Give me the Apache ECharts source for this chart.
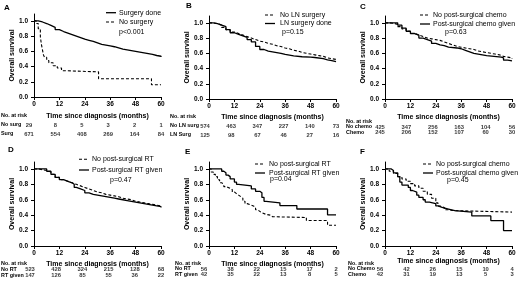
<!DOCTYPE html>
<html>
<head>
<meta charset="utf-8">
<script src="https://cdn.jsdelivr.net/npm/echarts@6/dist/echarts.min.js"></script>
<style>
html, body { margin: 0; padding: 0; background: #fff; }
#chart { width: 520px; height: 284px; }
</style>
</head>
<body>
<div id="chart"></div>
<script>
// axis ticks
var monthTicks = [0, 12, 24, 36, 48, 60];
var survivalTicks = [0, 0.2, 0.4, 0.6, 0.8, 1.0];

// A - surgery
var aSurgeryDone = [[0,1],[2,0.985],[4,0.965],[6,0.94],[8,0.915],[10,0.885],[12,0.86],[14,0.84],[16,0.82],[18,0.8],[20,0.78],[22,0.76],[24,0.745],[26,0.73],[28,0.71],[30,0.69],[32,0.68],[34,0.67],[36,0.66],[38,0.645],[40,0.63],[42,0.62],[44,0.61],[46,0.6],[48,0.59],[50,0.58],[52,0.57],[54,0.56],[56,0.545],[58,0.535],[60,0.525]];
var aNoSurgery = [[0,1],[1,0.966],[2,0.897],[3,0.793],[3.5,0.69],[4,0.62],[4.5,0.55],[5,0.52],[6,0.48],[7,0.45],[9,0.41],[11,0.38],[13,0.345],[15,0.33],[30.5,0.24],[55.5,0.16],[60,0.16]];
var aRiskNoSurg = [29, 8, 5, 3, 2, 1];
var aRiskSurg = [671, 554, 408, 269, 164, 84];

// B - LN surgery
var bNoLnSurgery = [[0,1],[2,0.99],[4,0.97],[6,0.94],[8,0.91],[10,0.88],[12,0.86],[14,0.84],[16,0.82],[18,0.8],[20,0.78],[22,0.76],[24,0.75],[26,0.73],[28,0.72],[30,0.7],[32,0.69],[34,0.67],[36,0.66],[38,0.64],[40,0.63],[42,0.61],[44,0.6],[46,0.59],[48,0.58],[50,0.57],[52,0.56],[54,0.54],[56,0.53],[58,0.52],[60,0.51]];
var bLnSurgeryDone = [[0,1],[2,0.99],[4,0.97],[6,0.95],[8,0.91],[10,0.87],[12,0.85],[14,0.83],[16,0.81],[18,0.78],[20,0.75],[22,0.69],[24,0.65],[26,0.63],[28,0.62],[30,0.61],[32,0.6],[34,0.585],[36,0.575],[38,0.565],[40,0.555],[44,0.55],[48,0.545],[50,0.53],[54,0.515],[56,0.505],[58,0.49],[60,0.49]];
var bRiskNoLn = [574, 463, 347, 227, 140, 73];
var bRiskLn = [125, 98, 67, 46, 27, 16];

// C - post-surgical chemo
var cNoChemo = [[0,1],[2,0.995],[4,0.98],[6,0.95],[8,0.92],[10,0.89],[12,0.86],[14,0.84],[16,0.82],[18,0.8],[20,0.79],[22,0.78],[24,0.77],[26,0.75],[28,0.73],[30,0.71],[32,0.69],[34,0.68],[36,0.67],[38,0.66],[40,0.65],[42,0.63],[44,0.62],[46,0.61],[48,0.6],[50,0.59],[52,0.58],[54,0.56],[56,0.55],[58,0.54],[60,0.53]];
var cChemoGiven = [[0,1],[5,1],[6,0.97],[8,0.93],[10,0.89],[12,0.86],[14,0.84],[16,0.8],[18,0.78],[20,0.76],[22,0.73],[24,0.71],[26,0.7],[28,0.68],[30,0.67],[34,0.66],[36,0.64],[38,0.62],[40,0.6],[42,0.59],[44,0.58],[46,0.57],[48,0.55],[55,0.54],[56,0.51],[58,0.5],[60,0.5]];
var cRiskNoChemo = [425, 347, 256, 163, 104, 56];
var cRiskChemo = [245, 206, 152, 107, 60, 30];

// D - post-surgical RT
var dNoRt = [[0,1],[2,0.99],[4,0.98],[6,0.96],[8,0.93],[10,0.89],[12,0.86],[14,0.84],[16,0.82],[18,0.8],[20,0.78],[22,0.76],[24,0.74],[26,0.72],[28,0.7],[30,0.69],[32,0.67],[34,0.66],[36,0.65],[38,0.64],[40,0.62],[42,0.61],[44,0.6],[46,0.58],[48,0.57],[50,0.56],[52,0.55],[54,0.54],[56,0.53],[58,0.52],[60,0.52]];
var dRtGiven = [[0,1],[5,1],[6,0.97],[8,0.93],[10,0.89],[12,0.86],[14,0.84],[16,0.82],[18,0.8],[19,0.76],[20,0.74],[22,0.72],[24,0.69],[26,0.67],[28,0.66],[30,0.65],[32,0.64],[34,0.63],[36,0.62],[38,0.61],[40,0.6],[42,0.59],[44,0.58],[46,0.57],[48,0.56],[50,0.55],[52,0.54],[54,0.53],[56,0.52],[58,0.51],[60,0.5]];
var dRiskNoRt = [523, 428, 324, 215, 128, 68];
var dRiskRt = [147, 126, 85, 55, 36, 22];

// E - post-surgical RT (subgroup)
var eNoRt = [[0,1],[1,0.96],[2,0.93],[3,0.9],[4,0.86],[5,0.82],[6,0.8],[7,0.77],[8,0.75],[10,0.73],[11,0.7],[12,0.68],[13,0.66],[14,0.64],[15,0.62],[16,0.58],[17,0.55],[18,0.53],[20,0.52],[21,0.5],[22,0.47],[23,0.45],[24,0.43],[25,0.41],[27,0.4],[29,0.38],[30,0.37],[46,0.33],[56,0.27],[60,0.27]];
var eRtGiven = [[0,1],[6,0.97],[7,0.95],[8,0.92],[9,0.9],[10,0.87],[12,0.83],[13,0.8],[14,0.78],[20,0.74],[22,0.71],[24,0.69],[25,0.63],[26,0.58],[27,0.56],[33.5,0.525],[41.5,0.48],[56,0.405],[60,0.405]];
var eRiskNoRt = [56, 38, 22, 15, 17, 2];
var eRiskRt = [42, 35, 22, 13, 8, 5];

// F - post-surgical chemo (subgroup)
var fNoChemo = [[0,1],[2,0.97],[4,0.94],[6,0.9],[8,0.87],[10,0.84],[12,0.81],[14,0.78],[16,0.75],[18,0.71],[20,0.67],[22,0.62],[24,0.56],[25,0.52],[26,0.5],[28,0.47],[30,0.46],[32,0.44],[60,0.44]];
var fChemoGiven = [[0,1],[3,0.98],[4,0.95],[6,0.9],[7,0.83],[8,0.79],[11,0.76],[12,0.72],[13,0.7],[15,0.66],[16,0.63],[18,0.6],[19,0.57],[21,0.55],[24,0.52],[25,0.5],[27,0.48],[30,0.46],[33,0.44],[41,0.39],[50,0.33],[56,0.2],[60,0.2]];
var fRiskNoChemo = [56, 42, 26, 15, 10, 4];
var fRiskChemo = [42, 31, 19, 13, 5, 3];

var FONT = '"Liberation Sans", Arial, Helvetica, sans-serif';
var INK = '#000';

var panels = [
    {
        letter: 'A', letterPos: [4, 4], p: 'p<0.001', pPos: [119, 28.5],
        grid: {left: 34, right: 359, top: 14, bottom: 187}, nameGap: 15.5,
        table: {left: 29, right: 359, top: 111.5, height: 27}, rowMargin: 28,
        legend: {x: 106, text: 119, rows: [12.7, 22]},
        lines: [{name: 'Surgery done', data: aSurgeryDone, dash: false}, {name: 'No surgery', data: aNoSurgery, dash: true}],
        rows: ['No surg', 'Surg'], risk: [aRiskNoSurg, aRiskSurg]
    },
    {
        letter: 'B', letterPos: [186, 2], p: 'p=0.15', pPos: [282, 28.5],
        grid: {left: 209, right: 184, top: 16, bottom: 185}, nameGap: 14.5,
        table: {left: 205, right: 184, top: 112.5, height: 27}, rowMargin: 35,
        legend: {x: 265, text: 280, rows: [15, 23.5]},
        lines: [{name: 'No LN surgery', data: bNoLnSurgery, dash: true}, {name: 'LN surgery done', data: bLnSurgeryDone, dash: false}],
        rows: ['No LN surg', 'LN Surg'], risk: [bRiskNoLn, bRiskLn]
    },
    {
        letter: 'C', letterPos: [360, 3], p: 'p=0.63', pPos: [445, 28.5],
        grid: {left: 385, right: 8, top: 16, bottom: 185}, nameGap: 14.5,
        table: {left: 380, right: 8, top: 119, height: 16}, rowMargin: 34,
        legend: {x: 420, text: 433, rows: [15, 24]},
        lines: [{name: 'No post-surgical chemo', data: cNoChemo, dash: true}, {name: 'Post-surgical chemo given', data: cChemoGiven, dash: false}],
        rows: ['No chemo', 'Chemo'], risk: [cRiskNoChemo, cRiskChemo]
    },
    {
        letter: 'D', letterPos: [8, 145.5], p: 'p=0.47', pPos: [110, 176.5],
        grid: {left: 34, right: 359, top: 162, bottom: 38}, nameGap: 14.5,
        table: {left: 30, right: 359, top: 261, height: 17}, rowMargin: 29,
        legend: {x: 79, text: 92, rows: [159.3, 170]},
        lines: [{name: 'No post-surgical RT', data: dNoRt, dash: true}, {name: 'Post-surgical RT given', data: dRtGiven, dash: false}],
        rows: ['No RT', 'RT given'], risk: [dRiskNoRt, dRiskRt]
    },
    {
        letter: 'E', letterPos: [185, 147.5], p: 'p=0.04', pPos: [270, 175.5],
        grid: {left: 209, right: 184, top: 162, bottom: 38}, nameGap: 14.5,
        table: {left: 204, right: 184, top: 261, height: 16}, rowMargin: 29,
        legend: {x: 255, text: 269, rows: [164, 173]},
        lines: [{name: 'No post-surgical RT', data: eNoRt, dash: true}, {name: 'Post-surgical RT given', data: eRtGiven, dash: false}],
        rows: ['No RT', 'RT given'], risk: [eRiskNoRt, eRiskRt]
    },
    {
        letter: 'F', letterPos: [360, 147.5], p: 'p=0.45', pPos: [447, 176.5],
        grid: {left: 385, right: 8, top: 162, bottom: 38}, nameGap: 9.5,
        table: {left: 380, right: 8, top: 261, height: 16}, rowMargin: 32,
        legend: {x: 423, text: 436, rows: [164, 173]},
        lines: [{name: 'No post-surgical chemo', data: fNoChemo, dash: true}, {name: 'Post-surgical chemo given', data: fChemoGiven, dash: false}],
        rows: ['No Chemo', 'Chemo'], risk: [fRiskNoChemo, fRiskChemo]
    }
];

var option = {
    backgroundColor: '#fff',
    animation: false,
    title: [],
    grid: [],
    xAxis: [],
    yAxis: [],
    series: [],
    graphic: []
};

panels.forEach(function (pn, i) {
    var g = i * 2;      // plot grid index
    var t = i * 2 + 1;  // risk table grid index

    option.title.push({
        text: pn.letter, left: pn.letterPos[0], top: pn.letterPos[1], padding: 0,
        textStyle: {fontFamily: FONT, fontSize: 8, fontWeight: 'bold', color: INK}
    });
    option.title.push({
        text: pn.p, left: pn.pPos[0], top: pn.pPos[1], padding: 0,
        textStyle: {fontFamily: FONT, fontSize: 7, fontWeight: 'normal', color: INK}
    });

    option.grid.push({left: pn.grid.left, right: pn.grid.right, top: pn.grid.top, bottom: pn.grid.bottom, containLabel: false, outerBoundsMode: 'none'});
    option.grid.push({left: pn.table.left, right: pn.table.right, top: pn.table.top, height: pn.table.height, containLabel: false, outerBoundsMode: 'none'});

    option.xAxis.push({
        gridIndex: g, type: 'value', min: 0, max: 60, interval: 12,
        name: 'Time since diagnosis (months)', nameLocation: 'middle', nameGap: pn.nameGap,
        nameTextStyle: {fontFamily: FONT, fontSize: 7, fontWeight: 'bold', color: INK},
        axisLine: {lineStyle: {color: INK, width: 1}},
        axisTick: {length: 3, lineStyle: {color: INK}},
        axisLabel: {margin: 4, fontFamily: FONT, fontSize: 6.5, fontWeight: 'bold', color: INK},
        splitLine: {show: false}
    });
    option.xAxis.push({gridIndex: t, type: 'value', min: 0, max: 60, show: false});

    option.yAxis.push({
        gridIndex: g, type: 'value', min: 0, max: 1.09,
        name: 'Overall survival', nameLocation: 'middle', nameGap: 13.5,
        nameTextStyle: {fontFamily: FONT, fontSize: 7, fontWeight: 'bold', color: INK},
        axisLine: {show: true, lineStyle: {color: INK, width: 1}},
        axisTick: {show: true, length: 3, lineStyle: {color: INK}, customValues: survivalTicks},
        axisLabel: {
            margin: 6, fontFamily: FONT, fontSize: 6.5, fontWeight: 'bold', color: INK,
            customValues: survivalTicks,
            formatter: function (v) { return v.toFixed(1); }
        },
        splitLine: {show: false}
    });
    option.yAxis.push({
        gridIndex: t, type: 'category', inverse: true,
        data: ['No. at risk'].concat(pn.rows),
        axisLine: {show: false}, axisTick: {show: false},
        axisLabel: {interval: 0, align: 'left', margin: pn.rowMargin, fontFamily: FONT, fontSize: 5.4, fontWeight: 'bold', color: INK}
    });

    pn.lines.forEach(function (ln, k) {
        var lineStyle = {color: INK, width: ln.dash ? 1.1 : 1.3, type: ln.dash ? [3, 2] : 'solid'};
        option.series.push({
            name: ln.name, type: 'line', xAxisIndex: g, yAxisIndex: g,
            data: ln.data, step: 'end', symbol: 'none', showSymbol: false,
            lineStyle: lineStyle, itemStyle: {color: INK}
        });
        // legend key
        var cy = pn.legend.rows[k];
        option.graphic.push({
            type: 'line', silent: true,
            shape: {x1: pn.legend.x, y1: cy, x2: pn.legend.x + 10, y2: cy},
            style: {stroke: INK, lineWidth: lineStyle.width, lineDash: ln.dash ? [3, 2] : null}
        });
        option.graphic.push({
            type: 'text', silent: true, x: pn.legend.text, y: cy,
            style: {text: ln.name, fontFamily: FONT, fontSize: 7, fill: INK, verticalAlign: 'middle', align: 'left'}
        });
    });

    pn.risk.forEach(function (counts, r) {
        option.series.push({
            name: 'risk-' + pn.letter + '-' + r, type: 'scatter', xAxisIndex: t, yAxisIndex: t,
            symbolSize: 1, itemStyle: {color: 'rgba(0,0,0,0)'}, clip: false, silent: true,
            data: counts.map(function (n, k) { return [monthTicks[k], pn.rows[r], n]; }),
            label: {
                show: true, position: 'inside',
                formatter: function (p) { return p.value[2]; },
                fontFamily: FONT, fontSize: 5.8, fontWeight: 'bold', color: INK
            }
        });
    });
});

var chart = echarts.init(document.getElementById('chart'), null, {renderer: 'canvas'});
chart.setOption(option);
</script>
</body>
</html>
